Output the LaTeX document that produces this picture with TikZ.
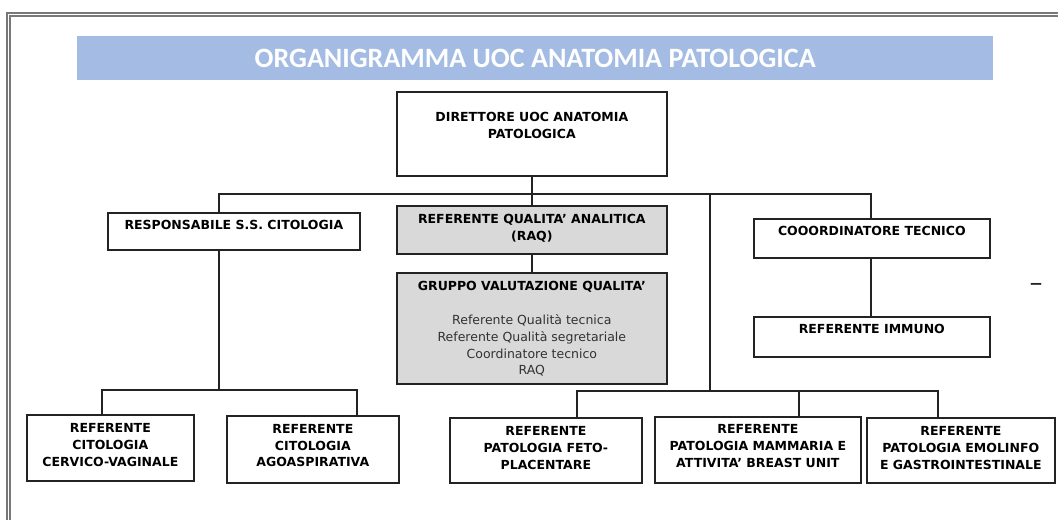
\documentclass[tikz,border=0pt]{standalone}
\usepackage{fontspec}
\setmainfont{DejaVu Sans}
\newfontfamily\titlefont{Carlito}
\definecolor{bannerc}{RGB}{164,188,227}
\definecolor{grayfill}{RGB}{217,217,217}
\definecolor{framec}{RGB}{120,120,120}
\definecolor{linec}{RGB}{35,35,35}
\definecolor{bodyc}{RGB}{50,50,50}
\newcommand{\bodytxt}{\mdseries\color{bodyc}}
\begin{document}
\begin{tikzpicture}[x=1pt,y=-1pt,
  box/.style={draw=linec, line width=1.7pt, fill=white, inner sep=0pt, anchor=north west},
  graybox/.style={box, fill=grayfill},
  lbl/.style={font=\fontsize{12.5}{16.8}\selectfont\bfseries, align=center, inner sep=0pt, anchor=north, text=black},
  conn/.style={draw=linec, line width=1.8pt},
  frameline/.style={draw=framec, line width=1.3pt}]
\useasboundingbox (0,0) rectangle (1058,520);
\fill[white] (0,0) rectangle (1058,520);
% frame
\draw[frameline] (7,520) -- (7,13) -- (1058,13);
\draw[frameline] (10,520) -- (10,16) -- (1058,16);
% banner
\node[fill=bannerc, minimum width=916pt, minimum height=44pt, inner sep=0pt, anchor=north west,
  text=white, font=\titlefont\bfseries\fontsize{28}{32}\selectfont] (ban) at (77,36) {ORGANIGRAMMA UOC ANATOMIA PATOLOGICA};
% boxes
\node[box, minimum width=270pt, minimum height=84pt] (dir) at (396,91) {};
\node[lbl] (dirt) at ([yshift=-21.5pt]dir.north) {DIRETTORE UOC ANATOMIA\\PATOLOGICA};

\node[box, minimum width=252pt, minimum height=37pt] (resp) at (107,212) {};
\node[lbl] (respt) at ([yshift=-8.5pt]resp.north) {RESPONSABILE S.S. CITOLOGIA};

\node[graybox, minimum width=270pt, minimum height=48pt] (raq) at (396,205) {};
\node[lbl] (raqt) at ([yshift=-9pt]raq.north) {REFERENTE QUALITA’ ANALITICA\\(RAQ)};

\node[graybox, minimum width=270pt, minimum height=111pt] (gvq) at (396,272) {};
\node[lbl] (gvqt) at ([yshift=-9.5pt]gvq.north) {GRUPPO VALUTAZIONE QUALITA’\\[16.7pt]
  {\bodytxt Referente Qualità tecnica}\\{\bodytxt Referente Qualità segretariale}\\{\bodytxt Coordinatore tecnico}\\{\bodytxt RAQ}};

\node[box, minimum width=236pt, minimum height=39pt] (coo) at (753,218) {};
\node[lbl] (coot) at ([yshift=-8.5pt]coo.north) {COOORDINATORE TECNICO};

\node[box, minimum width=236pt, minimum height=40pt] (imm) at (753,316) {};
\node[lbl] (immt) at ([yshift=-8.5pt]imm.north) {REFERENTE IMMUNO};

\node[box, minimum width=167pt, minimum height=66pt] (b1) at (26,414) {};
\node[lbl] (b1t) at ([yshift=-9.5pt]b1.north) {REFERENTE\\CITOLOGIA\\CERVICO-VAGINALE};

\node[box, minimum width=172pt, minimum height=67pt] (b2) at (226,415) {};
\node[lbl] (b2t) at ([yshift=-9pt]b2.north) {REFERENTE\\CITOLOGIA\\AGOASPIRATIVA};

\node[box, minimum width=192pt, minimum height=65pt] (b3) at (449,417) {};
\node[lbl] (b3t) at ([yshift=-9.5pt]b3.north) {REFERENTE\\PATOLOGIA FETO-\\PLACENTARE};

\node[box, minimum width=206pt, minimum height=66pt] (b4) at (654,416) {};
\node[lbl] (b4t) at ([yshift=-8.5pt]b4.north) {REFERENTE\\PATOLOGIA MAMMARIA E\\ATTIVITA’ BREAST UNIT};

\node[box, minimum width=188pt, minimum height=65pt] (b5) at (866,417) {};
\node[lbl] (b5t) at ([yshift=-9.5pt]b5.north) {REFERENTE\\PATOLOGIA EMOLINFO\\E GASTROINTESTINALE};

\node[font=\fontsize{26}{28}\selectfont, text=linec, inner sep=0pt] (dash) at (1036,287) {–};

% junctions
\coordinate (jL) at (219,194);
\coordinate (jR) at (871,194);
\coordinate (jM) at (710,194);
\coordinate (jM2) at (710,391);
\coordinate (jL2) at (219,390);
\coordinate (k1) at (102,390);
\coordinate (k2) at (357,390);
\coordinate (k3) at (577,391);
\coordinate (k4) at (799,391);
\coordinate (k5) at (938,391);

% connectors
\draw[conn] (dir.south) -- (dir.south |- raq.north);
\draw[conn] (raq.south) -- (raq.south |- gvq.north);
\draw[conn] (jL |- resp.north) -- (jL) -- (jR) -- (jR |- coo.north);
\draw[conn] (jM) -- (jM2);
\draw[conn] (jR |- coo.south) -- (jR |- imm.north);
\draw[conn] (jL |- resp.south) -- (jL2);
\draw[conn] (k1 |- b1.north) -- (k1) -- (k2) -- (k2 |- b2.north);
\draw[conn] (k3 |- b3.north) -- (k3) -- (k5) -- (k5 |- b5.north);
\draw[conn] (k4) -- (k4 |- b4.north);
\end{tikzpicture}
\end{document}
